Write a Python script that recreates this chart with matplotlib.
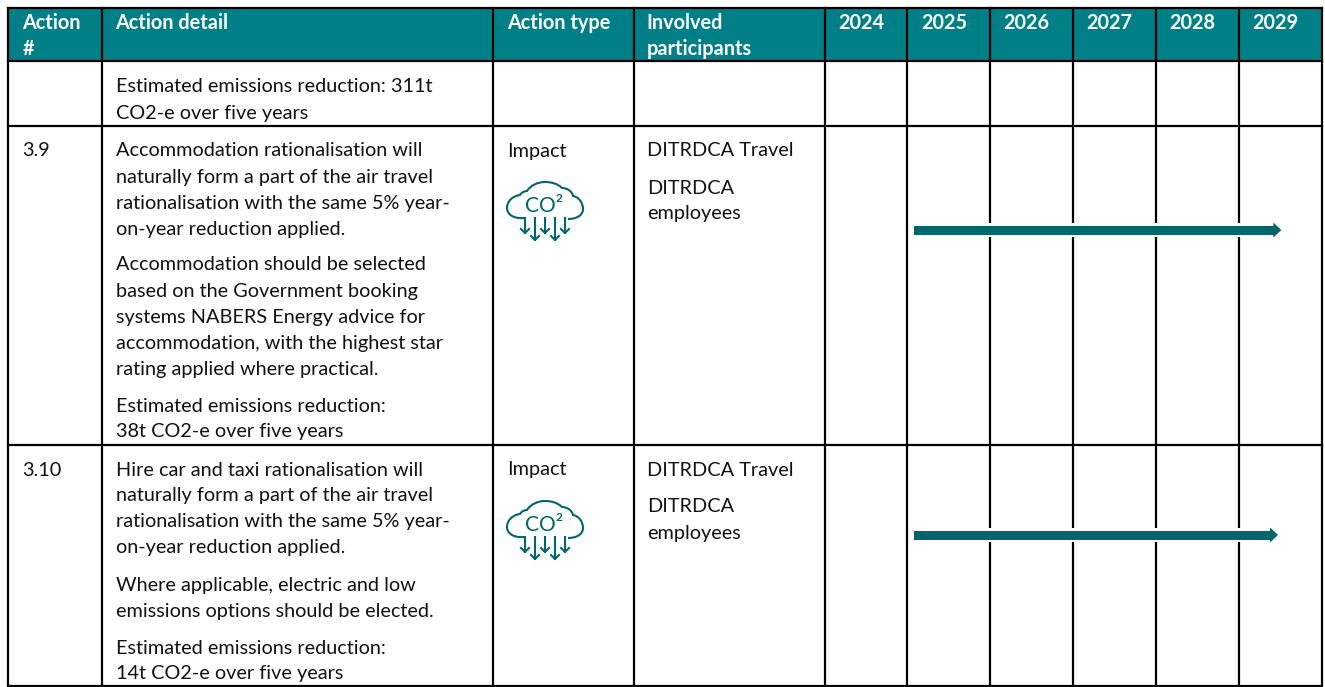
import matplotlib
matplotlib.use("Agg")
import matplotlib.pyplot as plt
from matplotlib.patches import Rectangle, Polygon, PathPatch
from matplotlib.path import Path

TEAL = "#007F86"
DARK = "#00666C"
FONT = "Lato"
FS = 14.3
FS_HEAD = 14.3

headers = ["Action\n#", "Action detail", "Action type", "Involved\nparticipants",
           "2024", "2025", "2026", "2027", "2028", "2029"]
col_edges = [8, 102, 493, 634, 825, 907, 990, 1073, 1156, 1239, 1322]
row_edges = [8, 61, 126, 445, 686]
action_ids = ["3.9", "3.10"]
action_types = ["Impact", "Impact"]
detail_lines = [
    (87, "Estimated emissions reduction: 311t"), (113, "CO2-e over five years"),
    (151, "Accommodation rationalisation will"), (177, "naturally form a part of the air travel"),
    (203, "rationalisation with the same 5% year-"), (229, "on-year reduction applied."),
    (265, "Accommodation should be selected"), (291, "based on the Government booking"),
    (317, "systems NABERS Energy advice for"), (343, "accommodation, with the highest star"),
    (369, "rating applied where practical."),
    (406, "Estimated emissions reduction:"), (432, "38t CO2-e over five years"),
    (470, "Hire car and taxi rationalisation will"), (496, "naturally form a part of the air travel"),
    (522, "rationalisation with the same 5% year-"), (548, "on-year reduction applied."),
    (585, "Where applicable, electric and low"), (611, "emissions options should be elected."),
    (648, "Estimated emissions reduction:"), (674, "14t CO2-e over five years"),
]
participant_lines = [(151, "DITRDCA Travel"), (188, "DITRDCA"), (214, "employees"),
                     (470, "DITRDCA Travel"), (507, "DITRDCA"), (533, "employees")]
row_tops = [151, 470]
timeline_start = [2025.08, 2025.08]
timeline_end = [2029.51, 2029.47]
timeline_y = [230, 535]

fig = plt.figure(figsize=(13.25, 6.87), dpi=100)
ax = fig.add_axes([0, 0, 1, 1])
ax.set_xlim(0, 1325)
ax.set_ylim(687, 0)
ax.axis("off")

def yr_x(y):
    i = int(y) - 2024
    return col_edges[4 + i] + (y - int(y)) * (col_edges[5 + i] - col_edges[4 + i])

ax.add_patch(Rectangle((col_edges[0], row_edges[0]), col_edges[-1] - col_edges[0],
                       row_edges[1] - row_edges[0], fc=TEAL, ec="none", zorder=1))
for x in col_edges:
    ax.plot([x, x], [row_edges[0], row_edges[-1]], color="black", lw=1.6, zorder=2, solid_capstyle="projecting")
for y in row_edges:
    ax.plot([col_edges[0], col_edges[-1]], [y, y], color="black", lw=1.6, zorder=2, solid_capstyle="projecting")

pad = [14.5, 13.5, 14.5, 12.5, 13, 14.5, 13.5, 13.5, 13.5, 13.5]
for i, h in enumerate(headers):
    for j, line in enumerate(h.split("\n")):
        ax.text(col_edges[i] + pad[i], 29 + 26 * j, line, color="white", fontsize=FS_HEAD,
                fontweight="bold", family=FONT, va="baseline", ha="left", zorder=3)

BASE = 5.5
for y, s in detail_lines:
    ax.text(116, y + BASE, s, fontsize=FS, family=FONT, va="baseline", ha="left", color="#111111", zorder=3)
for y, s in participant_lines:
    ax.text(647, y + BASE, s, fontsize=FS, family=FONT, va="baseline", ha="left", color="#111111", zorder=3)
for y, a, t in zip(row_tops, action_ids, action_types):
    ax.text(22.5, y + BASE, a, fontsize=FS, family=FONT, va="baseline", ha="left", color="#111111", zorder=3)
    ax.text(507.5, y + BASE, t, fontsize=FS, family=FONT, va="baseline", ha="left", color="#111111", zorder=3)

def icon(top):
    c = DARK
    lw = 1.5
    cx, cy = 545, top + 49
    pts = [(-21, 18), (-32, 19), (-38, 14), (-38, 8), (-38, 2), (-33, -4), (-25, -5),
           (-24, -7), (-21, -9), (-18, -9), (-14, -15), (-7, -18), (0, -18),
           (7, -18), (13, -16), (17, -12), (22, -12), (27, -9), (28, -4),
           (34, -3), (38, 3), (38, 9), (38, 15), (32, 19), (23, 19)]
    codes = [Path.MOVETO] + [Path.CURVE4] * (len(pts) - 1)
    ax.add_patch(PathPatch(Path([(cx + a, cy + b) for a, b in pts], codes), fc="none", ec=c, lw=lw, zorder=3))
    ax.text(cx - 5, cy + 12, "CO", color=c, fontsize=15, family=FONT, ha="center", va="baseline", zorder=3)
    ax.text(cx + 14, cy + 2, "2", color=c, fontsize=8.5, family=FONT, fontweight="bold", ha="center", va="baseline", zorder=3)
    for dx, y1 in [(-20, 33), (-10, 40), (0, 33), (10, 40), (20, 33)]:
        ax.plot([cx + dx, cx + dx], [cy + 18, cy + y1], color=c, lw=lw, zorder=3)
        ax.plot([cx + dx - 4, cx + dx, cx + dx + 4], [cy + y1 - 4, cy + y1, cy + y1 - 4], color=c, lw=lw, zorder=3)

for t in row_tops:
    icon(t)

for s, e, y in zip(timeline_start, timeline_end, timeline_y):
    x0, x1 = yr_x(s), yr_x(e)
    ax.add_patch(Rectangle((x0 - 1, y - 7), x1 - x0 + 2, 14, fc="white", ec="none", zorder=4))
    ax.add_patch(Rectangle((x0, y - 4.5), x1 - x0 - 7, 9, fc=DARK, ec="none", zorder=5))
    ax.add_patch(Polygon([(x1 - 8, y - 7.5), (x1, y), (x1 - 8, y + 7.5)], fc=DARK, ec="none", zorder=5))

fig.savefig("out.png", dpi=100)
